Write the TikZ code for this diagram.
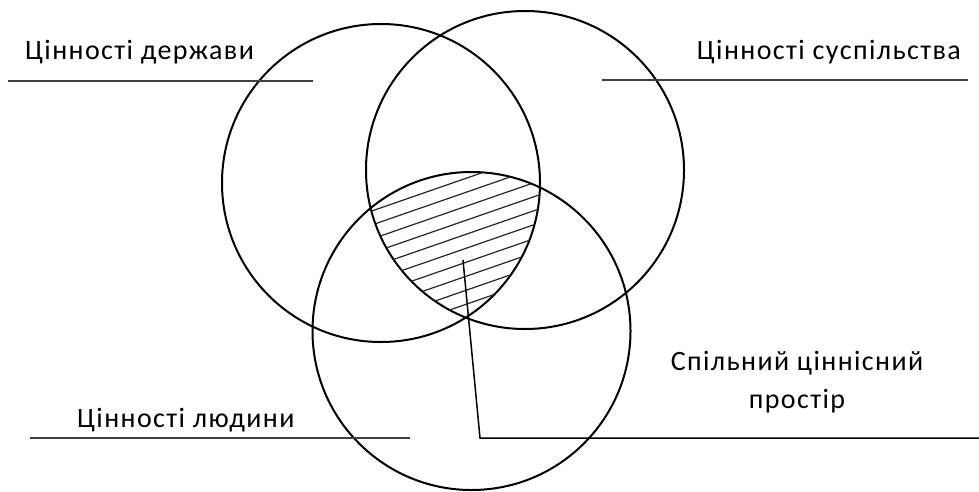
\documentclass[tikz,border=0pt]{standalone}
\usepackage{fontspec}
\setmainfont{Carlito}[LetterSpace=5]
\begin{document}
\begin{tikzpicture}[x=1pt,y=-1pt,
  ring/.style={draw=black,line width=2pt,circle,minimum size=318pt,inner sep=0pt},
  lbl/.style={font=\fontsize{28}{38}\selectfont,text=black,inner sep=0pt},
  uline/.style={draw=black!75,line width=1.3pt},
  hatch/.style={draw=black!85,line width=1.2pt}]
\useasboundingbox (0,0) rectangle (979,491);
% circles
\node[ring] (S) at (381,183) {};
\node[ring] (T) at (525,170) {};
\node[ring] (H) at (471.5,331) {};
% hatching of common region
\begin{scope}
  \clip (381,183) circle[radius=159];
  \clip (525,170) circle[radius=159];
  \clip (471.5,331) circle[radius=159];
  \foreach \c in {312,326,...,500} {
    \draw[hatch] (340,\c-0.347*340) -- (560,\c-0.347*560);
  }
\end{scope}
% labels
\node[lbl,anchor=west] (ls) at (25,52) {Цінності держави};
\coordinate (ls1) at (8,81); \coordinate (ls2) at (313,81);
\draw[uline] (ls1) -- (ls2);
\node[lbl,anchor=east] (lt) at (961,52) {Цінності суспільства};
\coordinate (lt1) at (602,80); \coordinate (lt2) at (968,80);
\draw[uline] (lt1) -- (lt2);
\node[lbl,anchor=west] (lh) at (77,420) {Цінності людини};
\coordinate (lh1) at (30,438); \coordinate (lh2) at (410,438);
\draw[uline] (lh1) -- (lh2);
\node[lbl,align=center] (lc) at (797,382) {Спільний ціннісний\\простір};
% pointer
\coordinate (p0) at (463,260);
\coordinate (p1) at (480,438);
\coordinate (p2) at (979,438);
\draw[line width=1.5pt] (p0) -- (p1) -- (p2);
\end{tikzpicture}
\end{document}
